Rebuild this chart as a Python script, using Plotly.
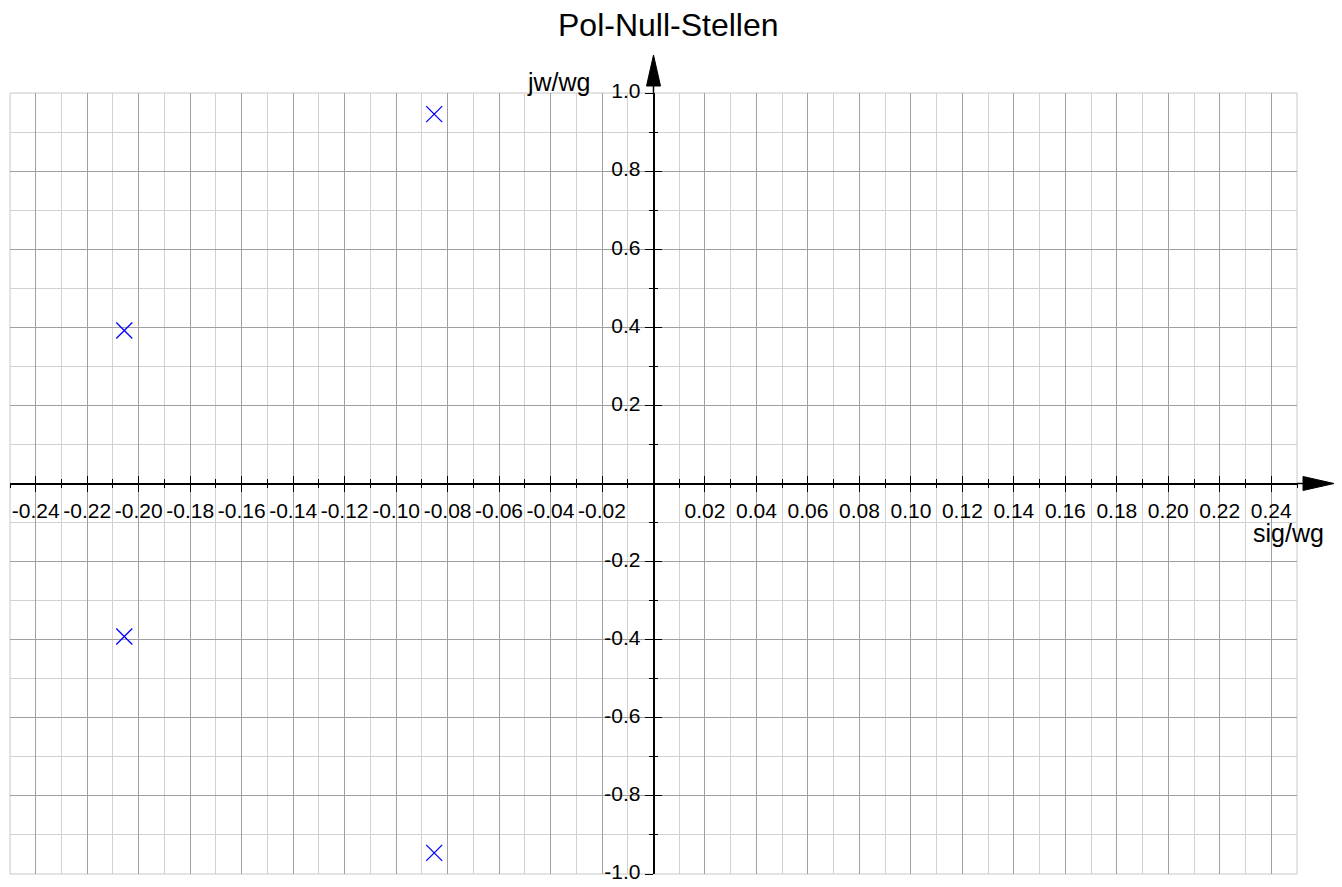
import plotly.graph_objects as go

# Pole locations (normalised to wg)
pole_sig = [-0.2056, -0.2056, -0.0852, -0.0852]
pole_jw = [0.392, -0.392, 0.946, -0.946]

x_tickvals = [-0.24, -0.22, -0.20, -0.18, -0.16, -0.14, -0.12, -0.10, -0.08, -0.06, -0.04, -0.02,
              0.02, 0.04, 0.06, 0.08, 0.10, 0.12, 0.14, 0.16, 0.18, 0.20, 0.22, 0.24]
x_ticktext = ["-0.24", "-0.22", "-0.20", "-0.18", "-0.16", "-0.14", "-0.12", "-0.10", "-0.08", "-0.06",
              "-0.04", "-0.02", "0.02", "0.04", "0.06", "0.08", "0.10", "0.12", "0.14", "0.16",
              "0.18", "0.20", "0.22", "0.24"]
y_tickvals = [1.0, 0.8, 0.6, 0.4, 0.2, -0.2, -0.4, -0.6, -0.8, -1.0]
y_ticktext = ["1.0", "0.8", "0.6", "0.4", "0.2", "-0.2", "-0.4", "-0.6", "-0.8", "-1.0"]

x_range = [-0.25, 0.25]
y_range = [-1.0, 1.0]

FONT = "Liberation Sans, Arial, Helvetica, sans-serif"
MAJOR_GRID = "#a0a0a0"
MINOR_GRID = "#d2d2d2"
W, H = 1342, 887

fig = go.Figure()
fig.add_trace(go.Scatter(
    x=pole_sig, y=pole_jw, mode="markers",
    marker=dict(symbol="x-thin", size=16, color="#0000ff",
                line=dict(color="#0000ff", width=1.3)),
    showlegend=False, hoverinfo="x+y",
))
# transparent copy so the overlay axes (inside-tick halves) get drawn
fig.add_trace(go.Scatter(
    x=pole_sig, y=pole_jw, mode="markers", xaxis="x2", yaxis="y2",
    marker=dict(opacity=0), showlegend=False, hoverinfo="skip",
))

common_x = dict(range=x_range, anchor="free", position=0.5, showline=True, automargin=False,
                linecolor="black", linewidth=1.5, zeroline=False, fixedrange=True)
common_y = dict(range=y_range, anchor="free", position=0.5, showline=True, automargin=False,
                linecolor="black", linewidth=1.5, zeroline=False, fixedrange=True)

fig.update_layout(
    width=W, height=H,
    margin=dict(l=2, r=53, t=85, b=21),
    paper_bgcolor="white", plot_bgcolor="white",
    font=dict(family=FONT, size=21, color="black"),
    title=dict(text="Pol-Null-Stellen", x=0.492, xref="container", xanchor="center",
               y=1 - 17 / H, yref="container", yanchor="middle",
               font=dict(size=32, color="black", family=FONT)),
    xaxis=dict(**common_x, tickmode="array", tickvals=x_tickvals, ticktext=x_ticktext,
               ticks="outside", ticklen=8, tickwidth=1.3, tickcolor="black",
               ticklabelstandoff=1,
               showgrid=True, gridcolor=MAJOR_GRID, gridwidth=1,
               tickfont=dict(size=21, color="black", family=FONT),
               minor=dict(tickmode="linear", tick0=0, dtick=0.01, ticks="outside", ticklen=4,
                          tickwidth=1.1, tickcolor="black",
                          showgrid=True, gridcolor=MINOR_GRID, gridwidth=1)),
    yaxis=dict(**common_y, tickmode="array", tickvals=y_tickvals, ticktext=y_ticktext,
               ticks="outside", ticklen=8, tickwidth=1.3, tickcolor="black",
               ticklabelstandoff=0, ticklabelshift=-2,
               showgrid=True, gridcolor=MAJOR_GRID, gridwidth=1,
               tickfont=dict(size=21, color="black", family=FONT),
               minor=dict(tickmode="linear", tick0=0, dtick=0.1, ticks="outside", ticklen=4,
                          tickwidth=1.1, tickcolor="black",
                          showgrid=True, gridcolor=MINOR_GRID, gridwidth=1)),
    xaxis2=dict(**common_x, overlaying="x", matches="x", tickmode="array", tickvals=x_tickvals,
                showticklabels=False, ticks="inside", ticklen=7, tickwidth=1.3, tickcolor="black",
                showgrid=False,
                minor=dict(tickmode="linear", tick0=0, dtick=0.01, ticks="inside", ticklen=4,
                           tickwidth=1.1, tickcolor="black", showgrid=False)),
    yaxis2=dict(**common_y, overlaying="y", matches="y", tickmode="array", tickvals=y_tickvals,
                showticklabels=False, ticks="inside", ticklen=8, tickwidth=1.3, tickcolor="black",
                showgrid=False,
                minor=dict(tickmode="linear", tick0=0, dtick=0.1, ticks="inside", ticklen=4,
                           tickwidth=1.1, tickcolor="black", showgrid=False)),
    shapes=[
        # light frame around the plot area
        dict(type="rect", xref="paper", yref="paper", x0=0, x1=1, y0=0, y1=1,
             line=dict(color="#c8c8c8", width=1), layer="below"),
        # x-axis extension and arrow head
        dict(type="path", xref="paper", yref="paper", xsizemode="pixel", ysizemode="pixel",
             xanchor=1.0, yanchor=0.5, path="M0,0 L7,0",
             line=dict(color="black", width=1.5)),
        dict(type="path", xref="paper", yref="paper", xsizemode="pixel", ysizemode="pixel",
             xanchor=1.0, yanchor=0.5, path="M6,-7 L6,7 L37,0 Z",
             fillcolor="black", line=dict(color="black", width=1)),
        # y-axis extension and arrow head
        dict(type="path", xref="paper", yref="paper", xsizemode="pixel", ysizemode="pixel",
             xanchor=0.5, yanchor=1.0, path="M0,0 L0,8",
             line=dict(color="black", width=1.5)),
        dict(type="path", xref="paper", yref="paper", xsizemode="pixel", ysizemode="pixel",
             xanchor=0.5, yanchor=1.0, path="M-7,7 L7,7 L0,38 Z",
             fillcolor="black", line=dict(color="black", width=1)),
    ],
    annotations=[
        dict(text="jw/wg", xref="paper", yref="paper", x=(593 - 10) / 1287, y=1.0,
             xanchor="right", yanchor="middle", yshift=11, showarrow=False,
             font=dict(size=25, color="black", family=FONT)),
        dict(text="sig/wg", xref="paper", yref="paper", x=(1288 - 10) / 1287,
             y=(874 - 531) / 781, xanchor="center", yanchor="middle", yshift=-2,
             showarrow=False, font=dict(size=25, color="black", family=FONT)),
    ],
)

fig.write_html("out.html")
